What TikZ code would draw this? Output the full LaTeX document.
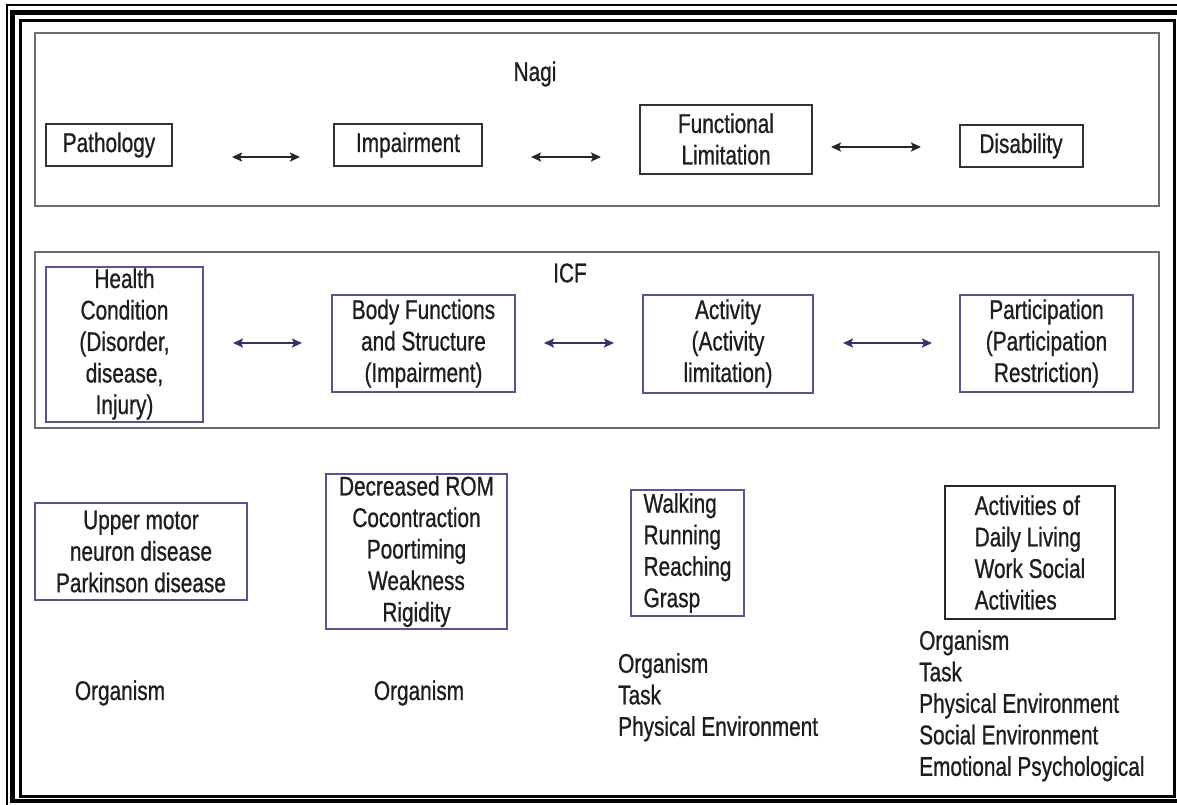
\documentclass[tikz,border=0pt]{standalone}
\usepackage{fontspec}
\setmainfont{Liberation Sans}[FakeStretch=0.77,FakeBold=0.8]
\usetikzlibrary{arrows.meta}
\definecolor{frameg}{HTML}{6E6E6E}
\definecolor{icfp}{HTML}{5E5296}
\definecolor{icfa}{HTML}{3B2F6E}
\definecolor{txt}{HTML}{1E1E1E}
\begin{document}
\begin{tikzpicture}[x=1pt,y=-1pt,
  lbl/.style={font=\fontsize{27}{31.5}\selectfont, text=txt, inner sep=0pt},
  nbox/.style={lbl, draw=black!80, line width=2pt, align=center},
  ibox/.style={lbl, draw=icfp, line width=2pt, align=center},
  kbox/.style={lbl, draw=black!85, line width=2pt, align=left},
  panel/.style={draw=frameg, line width=2.2pt},
  narrow/.style={{Stealth[length=10pt,width=9pt,inset=2pt]}-{Stealth[length=10pt,width=9pt,inset=2pt]}, line width=2.5pt, draw=black!85},
  iarrow/.style={narrow, draw=icfa},
]
\useasboundingbox (0,0) rectangle (1177,804);
\begin{scope}
\clip (0,0) rectangle (1177,804);
\draw[line width=2pt] (7,5) rectangle (1195,815);
\draw[line width=4.5pt] (12.5,12.5) rectangle (1188,801);
\draw[line width=3pt] (20,20) rectangle (1174.5,796);
\end{scope}

% panels
\draw[panel] (35,33) rectangle (1159,206);
\draw[panel] (35,252) rectangle (1159,428);

% Nagi row
\node[lbl] (nagi) at (535,74) {Nagi};
\node[nbox, minimum width=126pt, minimum height=42pt] (path) at (109,145) {Pathology};
\node[nbox, minimum width=148pt, minimum height=42pt] (imp) at (408,145) {Impairment};
\node[nbox, minimum width=172pt, minimum height=69pt] (func) at (726,139) {Functional\\Limitation};
\node[nbox, minimum width=123pt, minimum height=42pt] (dis) at (1021,146) {Disability};

\coordinate (n1a) at (232,157); \coordinate (n1b) at (300,157);
\coordinate (n2a) at (531,157); \coordinate (n2b) at (601,157);
\coordinate (n3a) at (831,147); \coordinate (n3b) at (921,147);
\draw[narrow] (n1a) -- (n1b);
\draw[narrow] (n2a) -- (n2b);
\draw[narrow] (n3a) -- (n3b);

% ICF row
\node[lbl] (icf) at (570,273) {ICF};
\node[ibox, minimum width=157pt, minimum height=155pt] (health) at (124.5,344) {Health\\Condition\\(Disorder,\\disease,\\Injury)};
\node[ibox, minimum width=183pt, minimum height=97pt] (body) at (423.5,343.5) {Body Functions\\and Structure\\(Impairment)};
\node[ibox, minimum width=170pt, minimum height=98pt] (act) at (728,343.5) {Activity\\(Activity\\limitation)};
\node[ibox, minimum width=173pt, minimum height=97pt] (part) at (1046.5,343.5) {Participation\\(Participation\\Restriction)};

\coordinate (i1a) at (233,343); \coordinate (i1b) at (302,343);
\coordinate (i2a) at (544,343); \coordinate (i2b) at (614,343);
\coordinate (i3a) at (843,343); \coordinate (i3b) at (932,343);
\draw[iarrow] (i1a) -- (i1b);
\draw[iarrow] (i2a) -- (i2b);
\draw[iarrow] (i3a) -- (i3b);

% examples row
\node[ibox, minimum width=212pt, minimum height=97pt] (upper) at (141,551.5) {Upper motor\\neuron disease\\Parkinson disease};
\node[ibox, minimum width=181pt, minimum height=155pt] (rom) at (416.5,551.5) {Decreased ROM\\Cocontraction\\Poortiming\\Weakness\\Rigidity};
\node[ibox, align=left, minimum width=113pt, minimum height=126pt] (walk) at (687.5,553) {Walking\\Running\\Reaching\\Grasp};
\node[kbox, minimum width=170pt, minimum height=133pt] (adl) at (1030,552.5) {Activities of\\Daily Living\\Work Social\\Activities};

% contexts
\node[lbl] (org1) at (120,693) {Organism};
\node[lbl] (org2) at (419,693) {Organism};
\node[lbl, anchor=north west, align=left] (ctx3) at (618,653) {Organism\\Task\\Physical Environment};
\node[lbl, anchor=north west, align=left] (ctx4) at (919,630) {Organism\\Task\\Physical Environment\\Social Environment\\Emotional Psychological};
\end{tikzpicture}
\end{document}
